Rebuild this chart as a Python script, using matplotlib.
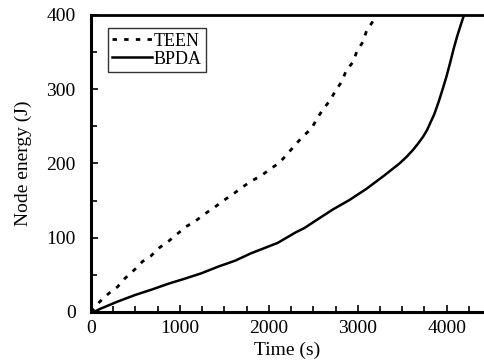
import numpy as np
import matplotlib.pyplot as plt
from matplotlib.ticker import MultipleLocator

plt.rcParams['font.family'] = ['Liberation Serif', 'DejaVu Serif']

# Data
teen_x = [0, 100, 200, 300, 380, 490, 580, 670, 775, 870, 960, 1070, 1170, 1280,
          1390, 1490, 1590, 1690, 1800, 1920, 2010, 2120, 2210, 2290, 2380, 2480,
          2540, 2610, 2690, 2750, 2820, 2870, 2950, 2990, 3060, 3100, 3180, 3220]
teen_y = [0, 14, 25, 34, 45, 57, 68, 75, 87, 95, 104, 115, 122, 132,
          141, 150, 158, 167, 176, 184, 192, 201, 213, 224, 236, 247,
          260, 273, 285, 298, 310, 325, 337, 351, 364, 379, 393, 405]

bpda_x = [0, 50, 100, 300, 500, 680, 870, 1060, 1240, 1430, 1620, 1800, 1950,
          2100, 2200, 2300, 2400, 2540, 2720, 2910, 3100, 3290, 3470, 3550,
          3620, 3680, 3735, 3780, 3810, 3860, 3910, 3960, 4000, 4040, 4080,
          4120, 4160, 4190, 4210]
bpda_y = [0, 1, 4, 14, 23, 30, 38, 45, 52, 61, 69, 79, 86,
          93, 100, 107, 113, 124, 138, 151, 166, 183, 200, 209,
          218, 227, 236, 245, 253, 266, 283, 302, 318, 336, 355,
          372, 387, 398, 406]

fig = plt.figure(figsize=(4.84, 3.64), dpi=100)
ax = fig.add_axes([0.188, 0.143, 0.812, 0.816])

ax.plot(teen_x, teen_y, color='black', lw=2.0, linestyle=(0, (1.6, 2.6)),
        dash_capstyle='butt', label='TEEN')
ax.plot(bpda_x, bpda_y, color='black', lw=1.8, label='BPDA')

ax.set_xlim(0, 4420)
ax.set_ylim(0, 400)

ax.xaxis.set_major_locator(MultipleLocator(1000))
ax.xaxis.set_minor_locator(MultipleLocator(250))
ax.yaxis.set_major_locator(MultipleLocator(100))
ax.yaxis.set_minor_locator(MultipleLocator(50))
ax.tick_params(which='both', direction='in', labelsize=14, width=1.2,
               top=False, right=False)
ax.tick_params(which='major', length=5, pad=6)
ax.tick_params(axis='y', which='major', pad=11)
ax.tick_params(which='minor', length=4)

ax.spines['right'].set_visible(False)
for s in ['left', 'bottom']:
    ax.spines[s].set_linewidth(2.2)
ax.spines['top'].set_linewidth(2.0)

ax.set_xlabel('Time (s)', fontsize=14, labelpad=3)
ax.set_ylabel('Node energy (J)', fontsize=14, labelpad=10)

leg = ax.legend(loc='upper left', bbox_to_anchor=(0.043, 0.955), fontsize=13,
                frameon=True, fancybox=False, edgecolor='black',
                handlelength=2.2, handletextpad=0.1, borderpad=0.25,
                labelspacing=0.05, borderaxespad=0)
leg.get_frame().set_linewidth(1.0)

fig.savefig('out.png', dpi=100)
